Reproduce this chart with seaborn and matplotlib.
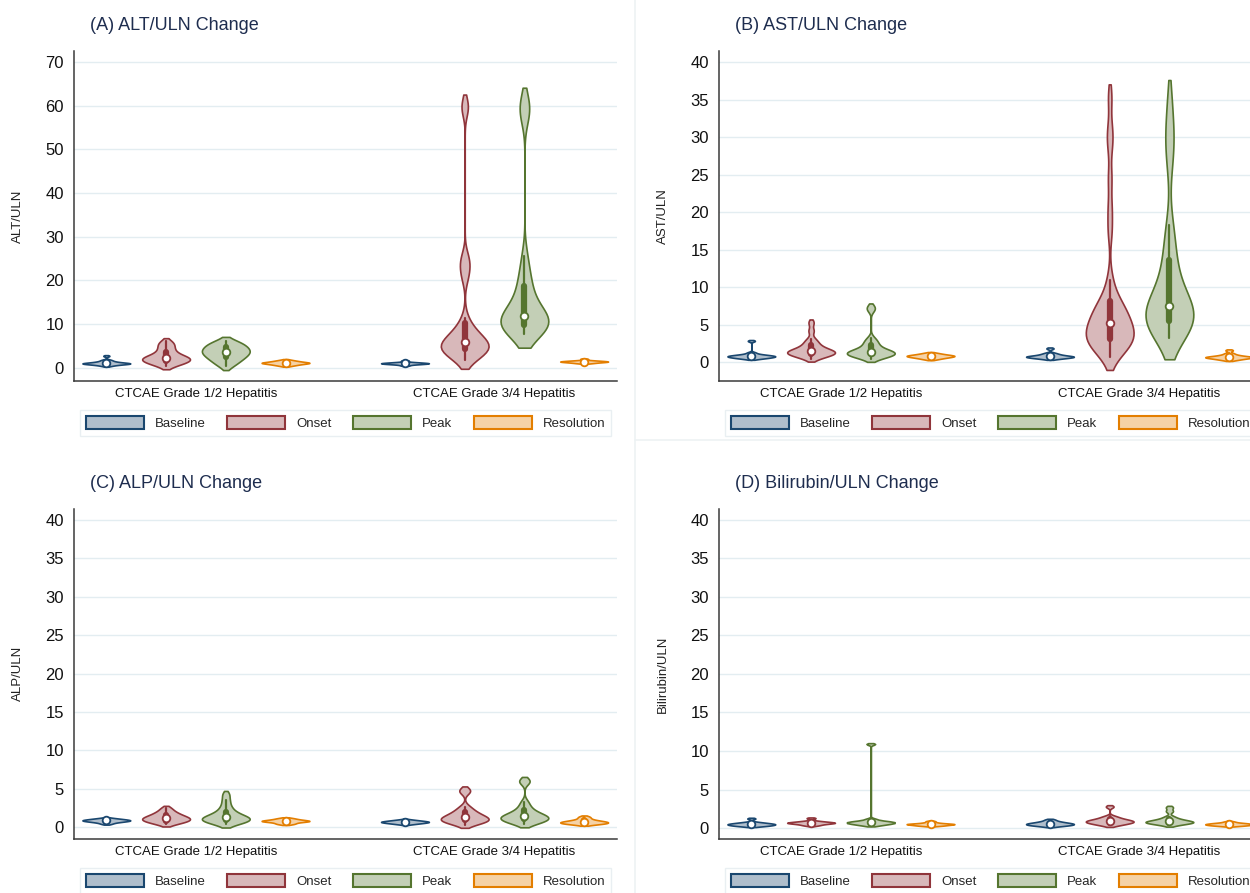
import numpy as np
import pandas as pd
import seaborn as sns
import matplotlib
matplotlib.use("Agg")
import matplotlib.pyplot as plt
from matplotlib.patches import Patch
from matplotlib.lines import Line2D

# categories
groups = ["CTCAE Grade 1/2 Hepatitis", "CTCAE Grade 3/4 Hepatitis"]
phases = ["Baseline", "Onset", "Peak", "Resolution"]

# ALT/ULN values
alt_grade12 = {
    "Baseline": [0.4, 0.6, 0.7, 0.8, 0.85, 0.9, 0.95, 1.0, 1.0, 1.05, 1.1, 1.2, 1.3, 1.4, 1.6, 1.8, 2.7],
    "Onset": [0.4, 0.8, 1.1, 1.3, 1.5, 1.7, 1.9, 2.0, 2.2, 2.3, 2.5, 2.8, 3.2, 3.7, 4.3, 4.9, 5.5, 6.0],
    "Peak": [0.3, 1.0, 1.5, 1.9, 2.3, 2.6, 2.9, 3.2, 3.5, 3.7, 3.9, 4.2, 4.5, 4.8, 5.1, 5.4, 5.8, 6.2],
    "Resolution": [0.4, 0.6, 0.7, 0.8, 0.9, 1.0, 1.0, 1.1, 1.1, 1.2, 1.2, 1.3, 1.4, 1.5, 1.6, 1.8],
}
alt_grade34 = {
    "Baseline": [0.5, 0.7, 0.8, 0.85, 0.9, 0.95, 1.0, 1.0, 1.05, 1.1, 1.15, 1.2, 1.3, 1.6],
    "Onset": [1.8, 2.4, 2.9, 3.3, 3.6, 3.9, 4.2, 4.5, 4.8, 5.0, 5.2, 5.4, 5.6, 5.8, 6.3, 6.9,
              7.5, 8.1, 8.7, 9.2, 11.4, 20.5, 22.5, 24.0, 25.5, 59.0, 60.5],
    "Peak": [7.7, 8.2, 8.7, 9.0, 9.3, 9.6, 9.9, 10.3, 10.7, 11.1, 11.4, 11.6, 12.2, 13.0, 14.0,
             15.2, 16.6, 18.2, 20.0, 22.0, 25.5, 57.5, 59.5, 61.0],
    "Resolution": [1.0, 1.1, 1.2, 1.25, 1.3, 1.35, 1.4, 1.4, 1.45, 1.5, 1.55, 1.6, 1.7, 2.0],
}

# AST/ULN values
ast_grade12 = {
    "Baseline": [0.45, 0.55, 0.6, 0.65, 0.7, 0.75, 0.8, 0.8, 0.85, 0.9, 0.95, 1.0, 1.1, 1.3, 2.85],
    "Onset": [0.5, 0.7, 0.9, 1.0, 1.1, 1.2, 1.3, 1.3, 1.4, 1.5, 1.6, 1.7, 1.9, 2.1, 2.4, 2.7, 3.1, 4.2, 5.3],
    "Peak": [0.5, 0.7, 0.8, 0.9, 1.0, 1.1, 1.2, 1.25, 1.3, 1.35, 1.4, 1.5, 1.7, 1.9, 2.2, 2.5,
             2.8, 3.2, 7.0, 7.4],
    "Resolution": [0.4, 0.5, 0.6, 0.65, 0.7, 0.75, 0.8, 0.85, 0.85, 0.9, 0.95, 1.0, 1.05, 1.15, 1.25],
}
ast_grade34 = {
    "Baseline": [0.45, 0.55, 0.6, 0.65, 0.7, 0.75, 0.75, 0.8, 0.85, 0.9, 1.0, 1.1, 1.25, 1.85],
    "Onset": [0.7, 1.3, 1.8, 2.2, 2.5, 2.7, 2.9, 3.0, 3.1, 3.4, 3.7, 4.0, 4.3, 4.6, 4.9, 5.1,
              5.4, 5.8, 6.2, 6.6, 7.0, 7.4, 7.7, 7.9, 9.2, 11.0,
              17.5, 20.5, 24.5, 29.0, 31.0, 35.3],
    "Peak": [3.2, 3.9, 4.4, 4.8, 5.0, 5.2, 5.4, 5.7, 6.0, 6.3, 6.6, 6.9, 7.2, 7.5, 8.0, 8.6,
             9.4, 10.4, 11.6, 12.8, 14.5, 16.2, 18.3, 26.5, 29.5, 31.0, 34.8],
    "Resolution": [0.3, 0.4, 0.5, 0.55, 0.6, 0.65, 0.7, 0.7, 0.75, 0.8, 0.9, 1.0, 1.2, 1.6],
}

# ALP/ULN values
alp_grade12 = {
    "Baseline": [0.45, 0.6, 0.7, 0.75, 0.8, 0.85, 0.9, 0.9, 0.95, 1.0, 1.05, 1.1, 1.2],
    "Onset": [0.4, 0.6, 0.75, 0.85, 0.95, 1.05, 1.15, 1.25, 1.35, 1.5, 1.65, 1.85, 2.1, 2.5],
    "Peak": [0.4, 0.6, 0.75, 0.85, 0.95, 1.05, 1.15, 1.25, 1.35, 1.5, 1.7, 1.95, 2.3, 2.8, 3.5, 4.3],
    "Resolution": [0.4, 0.5, 0.6, 0.7, 0.75, 0.8, 0.8, 0.85, 0.9, 0.95, 1.0, 1.1, 1.2],
}
alp_grade34 = {
    "Baseline": [0.4, 0.5, 0.55, 0.6, 0.65, 0.7, 0.7, 0.75, 0.8, 0.85, 0.9, 1.0],
    "Onset": [0.35, 0.55, 0.7, 0.8, 0.9, 1.0, 1.1, 1.2, 1.3, 1.45, 1.6, 1.8, 2.0, 2.3, 2.7, 4.6, 4.9],
    "Peak": [0.45, 0.6, 0.75, 0.9, 1.0, 1.1, 1.2, 1.3, 1.4, 1.5, 1.6, 1.8, 2.0, 2.3, 2.7, 3.3, 5.9, 6.1],
    "Resolution": [0.35, 0.45, 0.5, 0.55, 0.6, 0.65, 0.7, 0.75, 0.8, 0.9, 1.0, 1.2, 1.4],
}

# Bilirubin/ULN values
bili_grade12 = {
    "Baseline": [0.25, 0.3, 0.35, 0.4, 0.45, 0.5, 0.5, 0.55, 0.6, 0.65, 0.7, 0.8, 1.25],
    "Onset": [0.35, 0.45, 0.55, 0.6, 0.65, 0.7, 0.7, 0.75, 0.8, 0.85, 0.95, 1.3],
    "Peak": [0.35, 0.45, 0.55, 0.6, 0.65, 0.7, 0.75, 0.8, 0.85, 0.9, 1.0, 1.2, 10.9],
    "Resolution": [0.3, 0.35, 0.4, 0.45, 0.5, 0.5, 0.55, 0.55, 0.6, 0.65, 0.75, 0.9],
}
bili_grade34 = {
    "Baseline": [0.25, 0.35, 0.4, 0.45, 0.5, 0.55, 0.6, 0.65, 0.7, 0.8, 0.9, 1.1],
    "Onset": [0.35, 0.5, 0.6, 0.7, 0.75, 0.8, 0.9, 0.95, 1.0, 1.1, 1.2, 1.35, 1.55, 2.8],
    "Peak": [0.4, 0.55, 0.65, 0.7, 0.75, 0.8, 0.85, 0.9, 1.0, 1.1, 1.25, 1.5, 2.2, 2.7],
    "Resolution": [0.3, 0.35, 0.4, 0.45, 0.5, 0.5, 0.55, 0.6, 0.65, 0.7, 0.85],
}

edge_colors = {"Baseline": "#1a476f", "Onset": "#90353b", "Peak": "#55752f", "Resolution": "#e37e00"}
face_colors = {"Baseline": "#afbecc", "Onset": "#d8b8ba", "Peak": "#c3cfb6", "Resolution": "#f5d2a6"}

W, H = 1250, 893


def silverman_iqr(kde):
    # Stata-style rule of thumb: 0.9 * min(sd, IQR/1.349) * n^-1/5
    x = np.ravel(kde.dataset)
    sd = x.std(ddof=1)
    q75, q25 = np.percentile(x, [75, 25])
    h = 0.9 * min(sd, (q75 - q25) / 1.349) * len(x) ** -0.2
    return h / sd


def to_long(grade12, grade34):
    rows = []
    for group, d in zip(groups, [grade12, grade34]):
        for phase in phases:
            for v in d[phase]:
                rows.append((group, phase, v))
    return pd.DataFrame(rows, columns=["group", "phase", "value"])


def px_axes(fig, left, top, right, bottom):
    return fig.add_axes([left / W, 1 - bottom / H, (right - left) / W, (bottom - top) / H])


sns.set_style("white")
plt.rcParams["font.family"] = ["Liberation Sans", "DejaVu Sans"]

fig = plt.figure(figsize=(W / 100, H / 100), dpi=100)
fig.patch.set_facecolor("white")

# faint panel borders from the combined graph
fig.add_artist(Line2D([635 / W, 635 / W], [0, 1], color="#edf2f4", lw=1.2, transform=fig.transFigure))
fig.add_artist(Line2D([635 / W, 1], [1 - 440 / H, 1 - 440 / H], color="#edf2f4", lw=1.2,
                      transform=fig.transFigure))

panels = [
    ("(A) ALT/ULN Change", "ALT/ULN", alt_grade12, alt_grade34, 0, 0, (-3.05, 72.6), np.arange(0, 71, 10)),
    ("(B) AST/ULN Change", "AST/ULN", ast_grade12, ast_grade34, 645, 0, (-2.49, 41.5), np.arange(0, 41, 5)),
    ("(C) ALP/ULN Change", "ALP/ULN", alp_grade12, alp_grade34, 0, 458, (-1.52, 41.43), np.arange(0, 41, 5)),
    ("(D) Bilirubin/ULN Change", "Bilirubin/ULN", bili_grade12, bili_grade34, 645, 458, (-1.4, 41.4),
     np.arange(0, 41, 5)),
]

for title, ylabel, g12, g34, dx, dy, ylim, yticks in panels:
    df = to_long(g12, g34)
    ax = px_axes(fig, 73.5 + dx, 50.7 + dy, 617 + dx, 381 + dy)

    for phase in phases:
        sns.violinplot(data=df[df["phase"] == phase], x="group", y="value", hue="phase",
                       order=groups, hue_order=phases, palette=face_colors,
                       linecolor=edge_colors[phase], linewidth=1.2, saturation=1,
                       inner="box", inner_kws=dict(box_width=4.5, whis_width=1.6, marker="o"),
                       density_norm="width", cut=1, bw_method=silverman_iqr,
                       gap=0.2, dodge=True, legend=False, ax=ax)

    # white median dots like Stata's vioplot
    for line in ax.lines:
        if line.get_marker() == "o":
            line.set_markerfacecolor("white")
            line.set_markeredgecolor(line.get_color())
            line.set_markersize(5.5)
            line.set_markeredgewidth(1.3)

    ax.set_xlim(-0.41, 1.41)
    ax.set_ylim(*ylim)
    ax.set_yticks(yticks)
    ax.set_xlabel("")
    ax.set_ylabel(ylabel, fontsize=9.5, color="#222222")
    ax.yaxis.set_label_coords(-0.092, 0.5)
    ax.yaxis.grid(True, color="#e3edf1", lw=1)
    ax.xaxis.grid(False)
    ax.set_axisbelow(True)
    for side in ["top", "right"]:
        ax.spines[side].set_visible(False)
    for side in ["left", "bottom"]:
        ax.spines[side].set_color("#3a3a3a")
        ax.spines[side].set_linewidth(1.1)
    ax.tick_params(axis="y", labelsize=12, length=5, width=1, color="#3a3a3a", pad=2, labelcolor="#111111")
    ax.tick_params(axis="x", labelsize=9.5, length=0, pad=5, labelcolor="#111111")

    fig.text((90 + dx) / W, 1 - (25 + dy) / H, title, fontsize=13, color="#1e2d4f",
             ha="left", va="center")

    handles = [Patch(facecolor=face_colors[p], edgecolor=edge_colors[p], lw=1.5) for p in phases]
    ax.legend(handles, phases, loc="center", ncol=4, mode="expand",
              bbox_to_anchor=((80 + dx) / W, 1 - (438 + dy) / H, 531 / W, 30 / H),
              bbox_transform=fig.transFigure, frameon=True, fancybox=False,
              edgecolor="#e4ecef", fontsize=9.5, handlelength=4.4, handleheight=1.2,
              handletextpad=0.8, borderpad=0.45, borderaxespad=0)

fig.savefig("out.png", dpi=100, facecolor="white")
